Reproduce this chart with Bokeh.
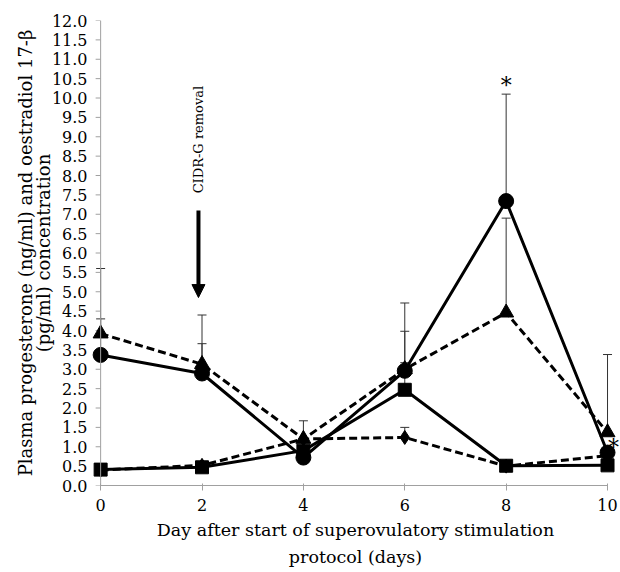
import numpy as np
from math import pi
from bokeh.plotting import figure
from bokeh.models import (Range1d, Arrow, NormalHead, Label, FixedTicker, PrintfTickFormatter,
                          Span, Title)
from bokeh.core.properties import value
from bokeh.embed import file_html
from bokeh.resources import INLINE

nan = np.nan
days = [0, 2, 4, 6, 8, 10]
x_ticks = [0, 2, 4, 6, 8, 10]
y_ticks = [0.0, 0.5, 1.0, 1.5, 2.0, 2.5, 3.0, 3.5, 4.0, 4.5, 5.0, 5.5, 6.0,
           6.5, 7.0, 7.5, 8.0, 8.5, 9.0, 9.5, 10.0, 10.5, 11.0, 11.5, 12.0]

circle_vals = [3.37, 2.89, 0.72, 2.96, 7.34, 0.85]
circle_upper = [5.6, 3.66, nan, 4.71, 10.1, nan]
triangle_vals = [3.92, 3.13, 1.2, 3.0, 4.46, 1.37]
triangle_upper = [4.3, 4.4, 1.67, 3.98, 6.9, 3.38]
square_vals = [0.41, 0.47, 0.9, 2.47, 0.51, 0.52]
square_upper = [nan, nan, nan, 3.17, nan, nan]
diamond_vals = [0.4, 0.52, 1.2, 1.24, 0.5, 0.77]
diamond_upper = [nan, nan, nan, 1.5, nan, nan]

star_days = [8, 10]
star_vals = [10.32, 0.98]
star_offsets = [0, 6]

event_day = 2
event_text = "CIDR-G removal"

x_title = ["Day after start of superovulatory stimulation", "protocol (days)"]
y_title = ["Plasma progesterone (ng/ml) and oestradiol 17-β", "(pg/ml) concentration"]

FONT = "DejaVu Serif"
AXIS_GRAY = "#a0a0a0"

p = figure(width=620, height=572, x_range=Range1d(-0.2, 10.256), y_range=Range1d(0, 12),
           output_backend="svg", toolbar_location=None,
           min_border_left=90, min_border_right=0, min_border_top=20, min_border_bottom=87)
p.grid.visible = False
p.outline_line_color = None

series = [
    (circle_vals, circle_upper, "circle", "solid", 15),
    (triangle_vals, triangle_upper, "triangle", "8 4", 15),
    (square_vals, square_upper, "square", "solid", 13),
    (diamond_vals, diamond_upper, "diamond", "8 4", 14),
]

# y axis line at day 0 and its ticks
p.add_layout(Span(location=0, dimension="height", line_color=AXIS_GRAY, line_width=1))
p.ray(x=[0] * len(y_ticks), y=y_ticks, length=5, length_units="screen", angle=pi,
      line_color=AXIS_GRAY, line_width=1)

# error bars
for vals, upper, _, _, _ in series:
    up = np.array(upper, dtype=float)
    p.segment(x0=days, y0=vals, x1=days, y1=up, line_color="#333333", line_width=1)
    p.dash(x=days, y=up, size=9, line_color="#333333", line_width=1)

# lines
for vals, upper, mk, dash, sz in series:
    p.line(days, vals, line_color="black", line_width=3, line_dash=dash)

# markers
for vals, upper, mk, dash, sz in series:
    p.scatter(days, vals, marker=mk, size=sz, fill_color="black", line_color="black")

p.text(x=star_days, y=star_vals, text=["*", "*"], x_offset=star_offsets,
       text_font=value(FONT), text_font_size="22px", text_align="center",
       text_baseline="middle", text_color="black")

p.add_layout(Arrow(end=NormalHead(size=13, fill_color="black", line_color="black"),
                   x_start=event_day - 0.07, y_start=7.1, x_end=event_day - 0.07, y_end=4.85,
                   line_width=4, line_color="black"))
p.add_layout(Label(x=event_day - 0.07, y=7.54, text=event_text, angle=pi / 2,
                   text_align="left", text_baseline="middle",
                   text_font=FONT, text_font_size="13px", text_color="black"))

# axis titles as side titles (closest to the frame first)
for txt, so in zip(x_title, [9, 0]):
    p.add_layout(Title(text=txt, align="center", text_font=FONT, text_font_size="17.5px",
                       text_font_style="normal", text_color="black", standoff=so, offset=0),
                 "below")
for txt, so in zip(reversed(y_title), [-10, 0]):
    p.add_layout(Title(text=txt, align="center", text_font=FONT, text_font_size="18px",
                       text_font_style="normal", text_color="black", standoff=so, offset=0),
                 "left")

for ax in (p.xaxis, p.yaxis):
    ax.minor_tick_line_color = None
    ax.major_label_text_font = FONT
    ax.major_label_text_font_size = "16px"
    ax.major_label_text_color = "black"

p.xaxis.ticker = FixedTicker(ticks=x_ticks)
p.xaxis.bounds = (0, 10)
p.xaxis.axis_line_color = AXIS_GRAY
p.xaxis.major_tick_line_color = AXIS_GRAY
p.xaxis.major_tick_out = 5
p.xaxis.major_tick_in = 2
p.xaxis.major_label_standoff = 8

p.yaxis.ticker = FixedTicker(ticks=y_ticks)
p.yaxis.formatter = PrintfTickFormatter(format="%.1f")
p.yaxis.axis_line_color = None
p.yaxis.major_tick_line_color = None
p.yaxis.major_tick_out = 0
p.yaxis.major_tick_in = 0
p.yaxis.major_label_standoff = 3

open("out.html", "w").write(file_html(p, INLINE))
